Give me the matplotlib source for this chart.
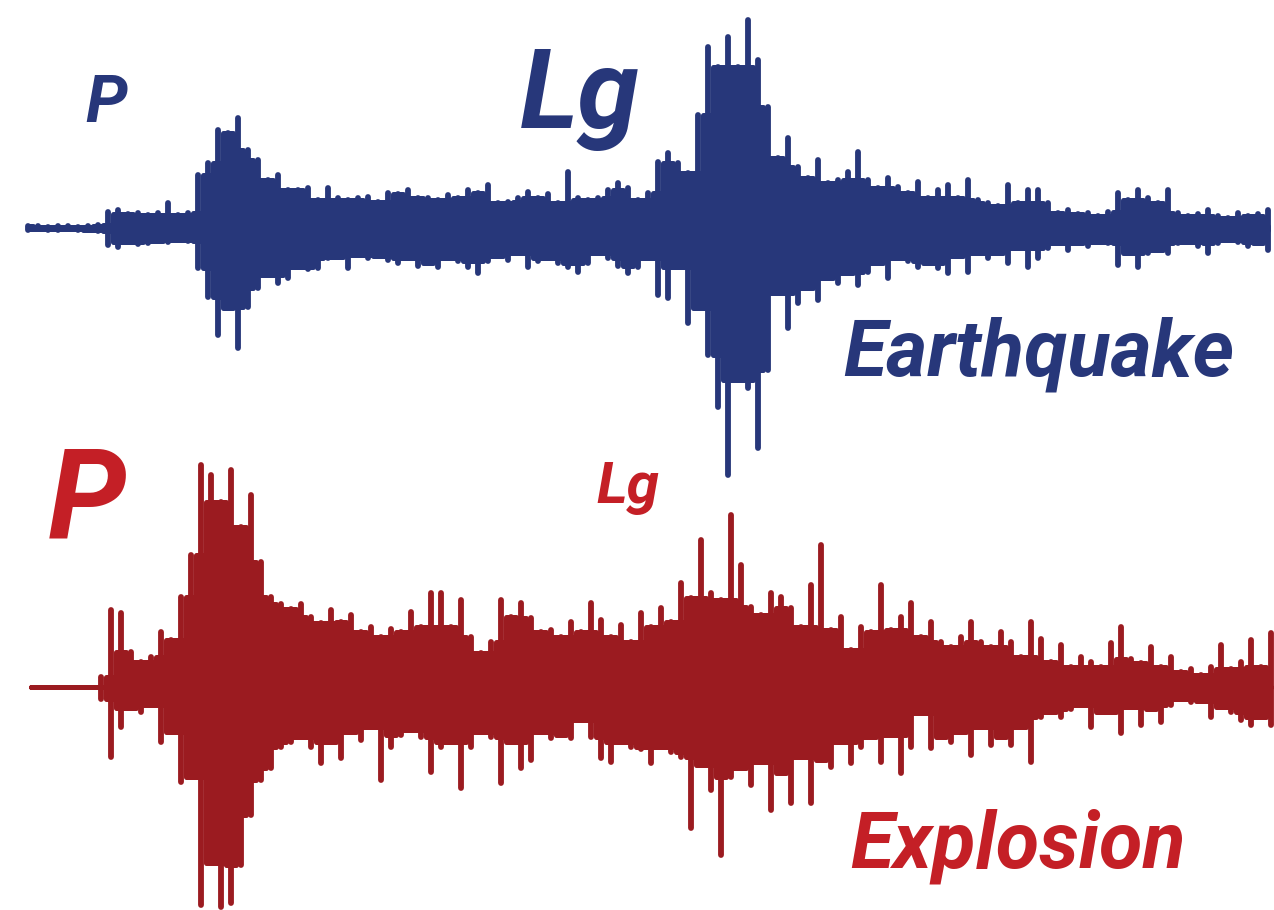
import matplotlib.pyplot as plt
import numpy as np

# peak amplitudes (px), one up-swing and one down-swing per 10 px
eq_up = [2, 2, 1, 2, 2, 1, 2, 3, 16, 18, 14, 15, 13, 15, 25, 13, 15, 53, 65, 98,
         95, 110, 78, 68, 48, 53, 38, 38, 40, 28, 40, 30, 28, 30, 31, 26, 35, 34, 38, 30,
         30, 28, 33, 30, 38, 35, 43, 25, 26, 30, 36, 30, 34, 25, 56, 30, 28, 30, 38, 45,
         40, 28, 35, 66, 75, 65, 55, 113, 181, 161, 191, 161, 208, 168, 121, 70, 90, 61, 50, 68,
         45, 48, 56, 76, 48, 40, 50, 41, 35, 46, 30, 38, 43, 30, 48, 28, 25, 22, 43, 25,
         38, 38, 25, 15, 18, 14, 15, 12, 16, 35, 28, 38, 30, 25, 38, 15, 12, 14, 18, 12,
         10, 15, 12, 14, 18]
eq_down = [-2, -1, -2, -2, -1, -2, -2, -3, -17, -19, -14, -16, -15, -13, -14, -12, -13, -40, -69, -107,
           -80, -120, -79, -60, -47, -55, -50, -39, -41, -40, -30, -29, -40, -27, -30, -28, -32, -35, -30, -38,
           -35, -39, -30, -33, -39, -45, -33, -28, -32, -25, -39, -33, -30, -35, -39, -44, -35, -25, -30, -38,
           -45, -39, -30, -67, -70, -39, -95, -80, -127, -179, -247, -152, -160, -220, -142, -65, -100, -75, -60, -72,
           -50, -55, -45, -57, -44, -35, -50, -30, -33, -39, -35, -40, -45, -28, -44, -25, -30, -25, -35, -20,
           -39, -30, -20, -15, -22, -15, -18, -14, -15, -37, -25, -39, -25, -22, -25, -15, -14, -18, -25, -15,
           -12, -14, -18, -15, -22]

ex_up = [0, 0, 0, 0, 0, 0, 0, 10, 77, 74, 35, 25, 30, 55, 47, 90, 132, 222, 212, 185,
         217, 160, 192, 125, 90, 83, 78, 83, 70, 64, 77, 65, 72, 55, 60, 50, 58, 55, 75, 60,
         94, 94, 60, 87, 50, 34, 45, 87, 70, 84, 69, 55, 57, 50, 65, 55, 84, 67, 50, 62,
         45, 74, 60, 79, 65, 104, 89, 147, 94, 87, 172, 122, 80, 72, 94, 90, 79, 60, 102, 142,
         57, 70, 37, 60, 55, 102, 57, 70, 84, 50, 65, 45, 40, 50, 65, 45, 40, 55, 45, 30,
         65, 48, 25, 42, 20, 30, 25, 20, 44, 60, 28, 24, 40, 20, 30, 15, 18, 12, 20, 42,
         18, 25, 47, 20, 54]
ex_down = [0, 0, 0, 0, 0, 0, 0, -12, -70, -40, -21, -25, -18, -55, -45, -95, -90, -218, -176, -220,
           -216, -178, -128, -93, -81, -60, -55, -50, -60, -76, -55, -71, -45, -53, -40, -93, -60, -48, -43, -50,
           -85, -60, -55, -101, -60, -45, -50, -96, -55, -81, -73, -45, -51, -48, -51, -33, -50, -71, -75, -55,
           -60, -62, -76, -60, -65, -70, -141, -78, -103, -168, -90, -81, -98, -75, -123, -86, -116, -70, -116, -73,
           -80, -55, -76, -60, -50, -75, -48, -86, -60, -26, -61, -50, -55, -45, -68, -40, -58, -50, -58, -40,
           -75, -30, -25, -30, -22, -18, -40, -25, -25, -46, -20, -38, -22, -35, -18, -12, -15, -14, -30, -20,
           -25, -33, -38, -30, -38]

navy = '#27377a'
red_line = '#9b1b20'
red_text = '#c41f26'


def draw_trace(ax, x0, base, up, down, color):
    up = np.array(up)
    down = np.array(down)
    x = x0 + 10 * np.arange(len(up))
    # solid body: the level that neighbouring swings share
    body_up = np.minimum(up, np.minimum(np.roll(up, 1), np.roll(up, -1)))
    body_dn = np.maximum(down, np.maximum(np.roll(down, 1), np.roll(down, -1)))
    poly = ax.fill_between(x, base - body_up, base - body_dn, step='mid',
                           facecolor=color, edgecolor=color, lw=3.6)
    poly.set_joinstyle('round')
    # each swing as a pen stroke with rounded tip
    ax.vlines(x, base - up, base - down, color=color, lw=4.2, capstyle='round')


fig = plt.figure(figsize=(12.74, 9.10), dpi=100)
ax = fig.add_axes([0, 0, 1, 1])
ax.set_xlim(0, 1274)
ax.set_ylim(910, 0)
ax.axis('off')

draw_trace(ax, 28, 228, eq_up, eq_down, navy)
draw_trace(ax, 31, 687, ex_up, ex_down, red_line)

font = dict(family=['Roboto', 'DejaVu Sans'], weight='bold', style='italic',
            ha='left', va='baseline')
ax.text(85, 122, 'P', color=navy, fontsize=48, **font)
ax.text(520, 128, 'Lg', color=navy, fontsize=80, **font)
ax.text(843, 376, 'Earthquake', color=navy, fontsize=57, **font)
ax.text(48, 538, 'P', color=red_text, fontsize=90, **font)
ax.text(596, 503, 'Lg', color=red_text, fontsize=42, **font)
ax.text(850, 867, 'Explosion', color=red_text, fontsize=57, **font)

fig.savefig('out.png', dpi=100, facecolor='white')
